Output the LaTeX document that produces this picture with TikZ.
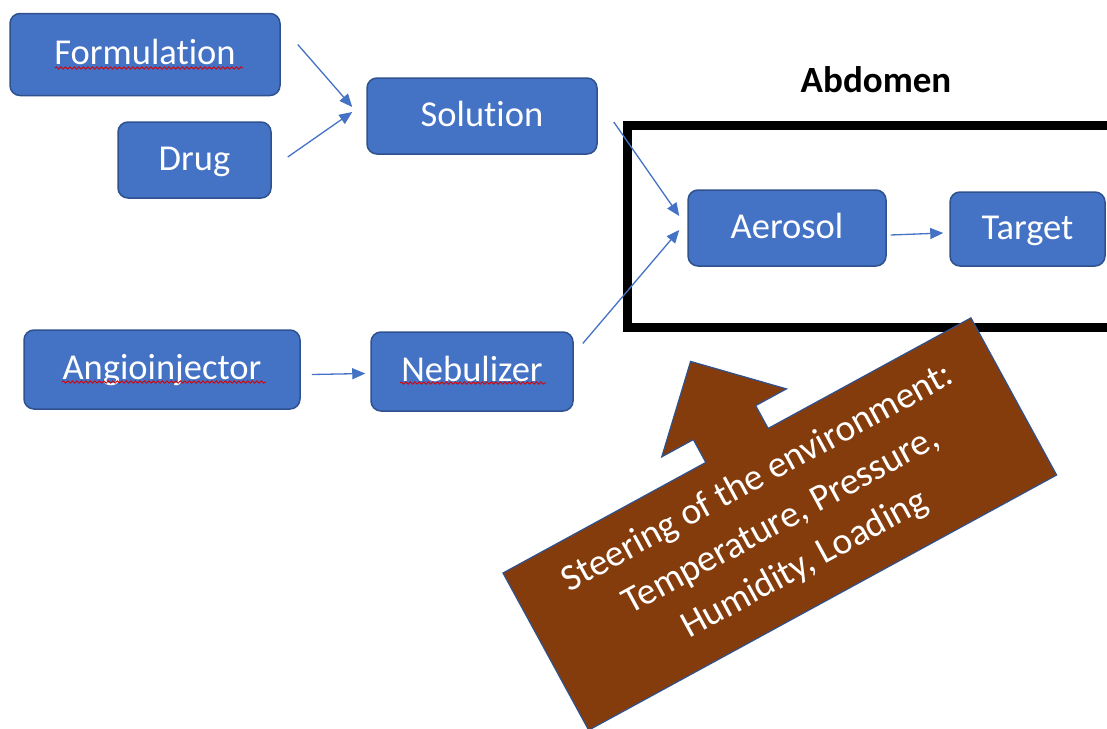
\documentclass[tikz,border=0pt]{standalone}
\usepackage{fontspec}
\setmainfont{Carlito}[Ligatures={NoCommon,NoContextual,NoRare}]
\usetikzlibrary{arrows.meta,decorations.pathmorphing,calc}
\definecolor{boxblue}{HTML}{4472C4}
\definecolor{boxedge}{HTML}{2F528F}
\definecolor{brownfill}{HTML}{843C0C}
\begin{document}
\begin{tikzpicture}[x=1pt,y=-1pt,
  blk/.style={draw=boxedge, line width=1.5pt, fill=boxblue, rounded corners=10pt, text=white,
    font=\fontsize{36.5}{43}\selectfont, text height=24pt, text depth=4pt, inner sep=0pt},
  conn/.style={draw=boxblue, line width=1.3pt, -{Triangle[length=13pt,width=11pt]}},
  spell/.style={draw=red!85!black, line width=0.8pt, decorate,
    decoration={snake, amplitude=1.2pt, segment length=4.5pt}}
]
\useasboundingbox (0,0) rectangle (1107,728);
\clip (0,0) rectangle (1107,728);

% frame
\draw[line width=9pt] (627.5,125) rectangle (1125,327.5);
\node[font=\fontsize{37}{44}\selectfont\bfseries] (abd) at (876,80) {Abdomen};

% boxes
\node[blk, minimum width=270pt, minimum height=82pt] (form) at (145,54.5) {Formulation};
\node[blk, minimum width=153pt, minimum height=76pt] (drug) at (194.5,160) {Drug};
\node[blk, minimum width=230pt, minimum height=76pt] (sol) at (482,116) {Solution};
\node[blk, minimum width=276pt, minimum height=79pt] (angio) at (162,369.5) {Angioinjector};
\node[blk, minimum width=202pt, minimum height=79pt] (neb) at (472,371.5) {Nebulizer};
\node[blk, minimum width=198pt, minimum height=76pt] (aer) at (787,228) {Aerosol};
\node[blk, minimum width=155pt, minimum height=74pt] (tgt) at (1027.5,229) {Target};

% spell-check marks
\draw[spell] ([shift={(-90,13.5)}]form.center) -- ([shift={(98,13.5)}]form.center);
\draw[spell] ([shift={(-100,12.5)}]angio.center) -- ([shift={(104,12.5)}]angio.center);
\draw[spell] ([shift={(-72,11.5)}]neb.center) -- ([shift={(74,11.5)}]neb.center);

% connectors
\draw[conn] ([shift={(17,-10)}]form.east) -- ([shift={(-14,-9)}]sol.west);
\draw[conn] ([shift={(16,-3)}]drug.east) -- ([shift={(-14,-4)}]sol.west);
\draw[conn] ([shift={(16,6)}]sol.east) -- ([shift={(-8,-12)}]aer.west);
\draw[conn] ([shift={(9,-28)}]neb.east) -- ([shift={(-8,2)}]aer.west);
\draw[conn] ([shift={(11,5)}]angio.east) -- ([shift={(-5,2)}]neb.west);
\draw[conn] ([shift={(4,7)}]aer.east) -- ([shift={(-6,4)}]tgt.west);

% steering arrow
\begin{scope}[shift={(503,573)}, rotate=28.6]
\draw[draw=boxedge, line width=1.2pt, fill=brownfill]
  (0,0) -- (231,0) -- (231,-26) -- (195,-26) -- (266,-96) -- (337,-26) -- (302,-26)
  -- (302,0) -- (533,0) -- (533,179) -- (0,179) -- cycle;
\node[transform shape, text=white, align=center, font=\fontsize{37.5}{49}\selectfont]
  (steer) at (269,88) {Steering of the environment:\\Temperature, Pressure,\\Humidity, Loading};
\end{scope}
\end{tikzpicture}
\end{document}
